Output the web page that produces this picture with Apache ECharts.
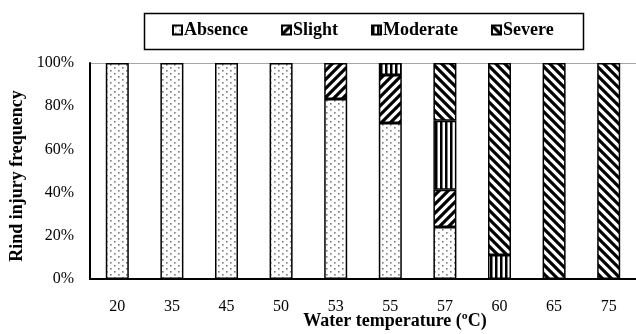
<!DOCTYPE html>
<html>
<head>
<meta charset="utf-8">
<script src="https://cdn.jsdelivr.net/npm/echarts@6/dist/echarts.min.js"></script>
<style>
html,body{margin:0;padding:0;background:#fff;}
#chart{width:636px;height:334px;}
</style>
</head>
<body>
<div id="chart"></div>
<script>
const categories = ['20','35','45','50','53','55','57','60','65','75'];
const absence  = [100,100,100,100,83.3,72.2,24.1,0,0,0];
const slight   = [0,0,0,0,16.7,22.2,17.2,0,0,0];
const moderate = [0,0,0,0,0,5.6,32,11.1,0,0];
const severe   = [0,0,0,0,0,0,26.7,88.9,100,100];
const seriesNames = ['Absence','Slight','Moderate','Severe'];
const yTicks = [0,20,40,60,80,100];

function tile(w, h, draw) {
  const c = document.createElement('canvas');
  c.width = w; c.height = h;
  const ctx = c.getContext('2d');
  ctx.fillStyle = '#fff';
  ctx.fillRect(0, 0, w, h);
  draw(ctx);
  return { image: c, repeat: 'repeat' };
}
const dotPattern = tile(8, 6, ctx => {
  ctx.fillStyle = '#7a7a7a';
  ctx.fillRect(2, 1, 1.6, 1.6);
  ctx.fillRect(6, 4, 1.6, 1.6);
});
const slashPattern = tile(9, 9, ctx => {
  ctx.strokeStyle = '#000'; ctx.lineWidth = 3.2;
  ctx.beginPath();
  ctx.moveTo(0, 9); ctx.lineTo(9, 0);
  ctx.moveTo(-3, 3); ctx.lineTo(3, -3);
  ctx.moveTo(6, 12); ctx.lineTo(12, 6);
  ctx.stroke();
});
const vertPattern = tile(5, 5, ctx => {
  ctx.fillStyle = '#000';
  ctx.fillRect(0, 0, 2.5, 5);
});
const backPattern = tile(9, 9, ctx => {
  ctx.strokeStyle = '#000'; ctx.lineWidth = 3.2;
  ctx.beginPath();
  ctx.moveTo(0, 0); ctx.lineTo(9, 9);
  ctx.moveTo(6, -3); ctx.lineTo(12, 3);
  ctx.moveTo(-3, 6); ctx.lineTo(3, 12);
  ctx.stroke();
});
const patterns = [dotPattern, slashPattern, vertPattern, backPattern];
const values = [absence, slight, moderate, severe];

const serif = '"Liberation Serif", "Times New Roman", serif';

const chart = echarts.init(document.getElementById('chart'), null, {renderer: 'canvas'});
chart.setOption({
  animation: false,
  backgroundColor: '#fff',
  grid: { left: 90, top: 63, width: 549, height: 216, containLabel: false },
  legend: {
    left: 172, top: 21, padding: 0,
    itemWidth: 9, itemHeight: 9, itemGap: 33,
    icon: 'rect',
    textStyle: { fontFamily: serif, fontWeight: 'bold', fontSize: 18, color: '#000', padding: [0,0,0,-3], lineHeight: 18 },
    data: seriesNames
  },
  xAxis: {
    type: 'category',
    data: categories,
    axisLine: { lineStyle: { color: '#000', width: 2 } },
    axisTick: { show: false },
    axisLabel: { fontFamily: serif, fontSize: 16, color: '#000', margin: 20 }
  },
  yAxis: [{
    type: 'value', min: 0, max: 100, interval: 20,
    axisLine: { show: true, lineStyle: { color: '#000', width: 2 } },
    axisTick: { show: false },
    splitLine: { show: false },
    axisLabel: { fontFamily: serif, fontSize: 16, color: '#000', margin: 16, formatter: '{value}%' }
  }, {
    type: 'value', min: 0, max: 100, interval: 100, position: 'left',
    axisLine: { show: false }, axisTick: { show: false }, axisLabel: { show: false },
    splitLine: { show: true, lineStyle: { color: '#a6a6a6', width: 1 } }
  }],
  series: seriesNames.map((name, i) => ({
    name: name,
    type: 'bar',
    stack: 'total',
    barWidth: 23,
    yAxisIndex: 0,
    itemStyle: { color: patterns[i], borderColor: '#000', borderWidth: 1.5 },
    data: values[i].map(v => v === 0 ? '-' : v)
  })),
  graphic: [
    { type: 'rect', left: 142, top: 11, shape: { width: 439, height: 36 },
      style: { fill: 'none', stroke: '#000', lineWidth: 1.5 } },
    { type: 'text', x: 17, y: 176, rotation: Math.PI / 2,
      style: { text: 'Rind injury frequency', font: 'bold 18px ' + serif, fill: '#000', align: 'center', verticalAlign: 'middle' } },
    { type: 'text', x: 395, y: 321,
      style: { text: 'Water temperature (ºC)', font: 'bold 18px ' + serif, fill: '#000', align: 'center', verticalAlign: 'middle' } }
  ]
});
</script>
</body>
</html>
